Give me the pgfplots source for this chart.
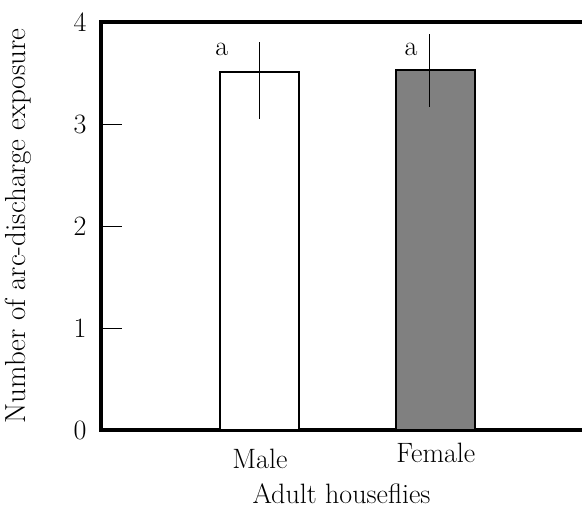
\documentclass[border=0pt]{standalone}
\usepackage{fontspec}
\usepackage{pgfplots}
\pgfplotsset{compat=1.18}
\begin{document}
\fontsize{28}{33}\selectfont
\begin{tikzpicture}
\begin{axis}[
  scale only axis, width=481pt, height=408pt,
  xmin=-0.903, xmax=1.83, ymin=0, ymax=4,
  axis lines=left,
  axis line style={-, line width=4pt, line cap=rect},
  ytick={0,1,2,3,4},
  xtick={0,1},
  xticklabels={Male,\raisebox{6pt}{Female}},
  xtick style={draw=none},
  ytick style={line width=0.9pt, black},
  tick align=inside, major tick length=21pt,
  /pgf/number format/assume math mode=true,
  xticklabel style={anchor=base, yshift=-39pt},
  yticklabel style={xshift=-5pt},
  xlabel={Adult houseflies},
  ylabel={Number of arc-discharge exposure},
  xlabel style={at={(axis description cs:0.5,-0.181)}, anchor=base},
  ylabel style={at={(axis description cs:-0.171,0.5)}, anchor=center, font=\fontsize{29}{34}\selectfont},
  clip=false,
]
\addplot[ybar, bar width=79pt, fill=white, draw=black, line width=2pt] coordinates {(0,3.51)};
\addplot[ybar, bar width=79pt, fill={rgb,255:red,128;green,128;blue,128}, draw=black, line width=2pt] coordinates {(1,3.53)};
\addplot[draw=none, mark=none,
  error bars/.cd, y dir=both, y explicit, error mark=none,
  error bar style={line width=1pt, draw=black, solid}]
  coordinates {(0,3.51) += (0,0.29) -= (0,0.46) (0.966,3.53) += (0,0.35) -= (0,0.36)};
\draw[line width=4pt, line cap=rect] (rel axis cs:0,1) -- (rel axis cs:1,1);
\node at (axis cs:-0.216,3.73) {a};
\node at (axis cs:0.858,3.73) {a};
\coordinate (bl) at (rel axis cs:0,0);
\end{axis}
\pgfresetboundingbox
\path (bl) ++(-101pt,-81pt) rectangle ++(582pt,511pt);
\end{tikzpicture}
\end{document}
